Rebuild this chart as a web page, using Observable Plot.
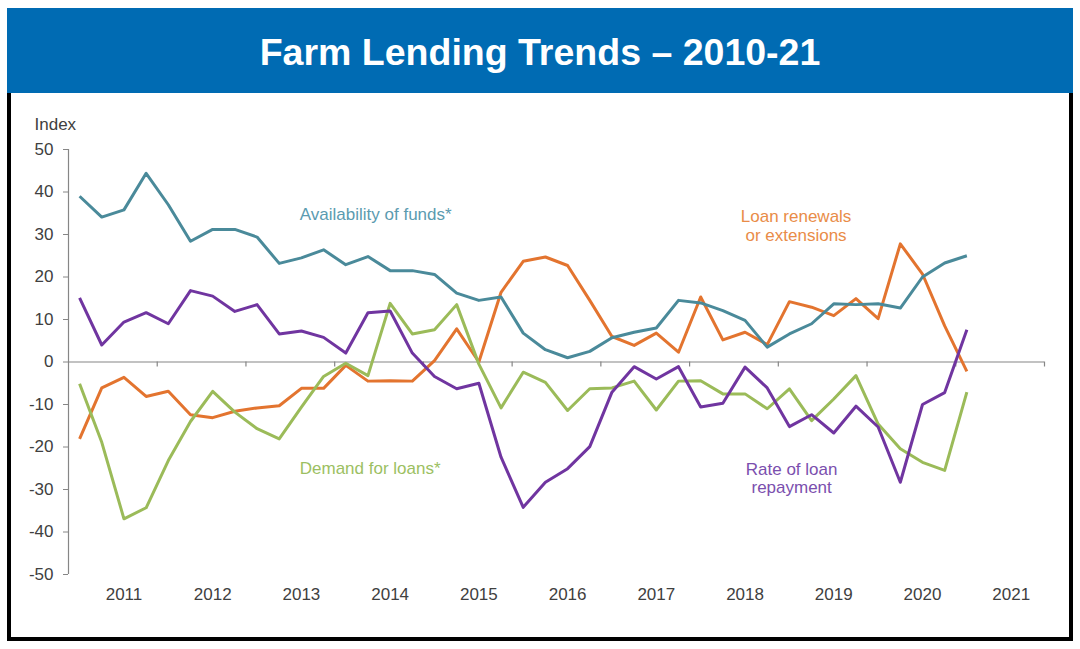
<!DOCTYPE html>
<html>
<head>
<meta charset="utf-8">
<script src="https://cdn.jsdelivr.net/npm/d3@7"></script>
<script src="https://cdn.jsdelivr.net/npm/@observablehq/plot@0.6"></script>
<style>
html, body { margin: 0; padding: 0; background: #fff; }
body { width: 1080px; height: 649px; position: relative; overflow: hidden; font-family: "Liberation Sans", Arial, sans-serif; }
#banner { position: absolute; left: 7px; top: 8px; width: 1066px; height: 85px; background: #006bb3; color: #fff;
  font-weight: bold; font-size: 37.5px; display: flex; align-items: center; justify-content: center; box-sizing: border-box; padding-top: 3px; }
#frame { position: absolute; left: 7px; top: 93px; width: 1066px; height: 548px; box-sizing: border-box;
  border: 4px solid #000; border-top: none; }
#chart { position: absolute; left: 11px; top: 93px; }
</style>
</head>
<body>
<div id="banner">Farm Lending Trends – 2010-21</div>
<div id="frame"></div>
<div id="chart"></div>
<script>
// Year labels on the x axis (one per 4 quarterly observations)
const yearLabels = ["2011", "2012", "2013", "2014", "2015", "2016", "2017", "2018", "2019", "2020", "2021"];
// y-axis ticks
const yTicks = [-50, -40, -30, -20, -10, 0, 10, 20, 30, 40, 50];

// Quarterly index values (41 observations)
const availability = [39.0, 34.1, 35.8, 44.4, 37.0, 28.4, 31.2, 31.2, 29.4, 23.2, 24.5, 26.4, 22.9, 24.8, 21.5, 21.5, 20.6, 16.2, 14.5, 15.3, 6.8, 2.9, 1.0, 2.5, 5.7, 7.0, 8.0, 14.5, 13.9, 12.1, 9.8, 3.5, 6.6, 9.0, 13.7, 13.5, 13.7, 12.7, 20.0, 23.3, 25.0];
const renewals = [-18.1, -6.1, -3.6, -8.1, -6.9, -12.4, -13.1, -11.6, -10.8, -10.3, -6.2, -6.2, -0.8, -4.5, -4.4, -4.5, 0.3, 7.8, 0.0, 16.4, 23.7, 24.7, 22.7, 14.5, 6.0, 3.9, 6.8, 2.3, 15.3, 5.2, 7.0, 4.1, 14.2, 12.9, 10.9, 14.9, 10.2, 27.8, 20.7, 8.5, -2.2];
const demand = [-5.1, -18.9, -36.9, -34.3, -23.2, -14.0, -6.9, -11.8, -15.7, -18.1, -10.6, -3.4, -0.3, -3.2, 13.8, 6.6, 7.6, 13.5, -0.5, -10.8, -2.4, -4.8, -11.4, -6.3, -6.1, -4.5, -11.3, -4.5, -4.4, -7.5, -7.5, -11.0, -6.3, -13.8, -8.7, -3.2, -14.6, -20.4, -23.6, -25.5, -7.1];
const repayment = [15.1, 4.0, 9.4, 11.6, 9.0, 16.8, 15.5, 11.9, 13.5, 6.6, 7.3, 5.8, 2.1, 11.6, 12.0, 2.1, -3.4, -6.3, -5.0, -22.4, -34.2, -28.3, -25.1, -19.9, -7.1, -1.1, -4.0, -1.1, -10.6, -9.7, -1.2, -6.1, -15.2, -12.4, -16.7, -10.4, -15.3, -28.3, -10.0, -7.2, 7.6];

// quarter slots: 4 per year label
const xDomain = [-0.5, yearLabels.length * 4 - 0.5];
const yearLabelPos = yearLabels.map((_, i) => 4 * i + 2);
const yearBoundaries = yearLabels.map((_, i) => 4 * i + 3.5);

const axisGray = "#868686";
const textGray = "#404040";
const col = {
  availability: "#4a8a9a", renewals: "#e3742f", demand: "#9bbb59", repayment: "#7035a0"
};
const lab = {
  availability: "#5b9bb0", renewals: "#e98c48", demand: "#9cbf62", repayment: "#7b4fae"
};

const lineOpts = (c) => ({x: (d, i) => i, y: d => d, stroke: c, strokeWidth: 3, strokeLinejoin: "round", strokeLinecap: "butt"});

const chart = Plot.plot({
  width: 1058,
  height: 544,
  marginLeft: 57,
  marginRight: 25,
  marginTop: 56,
  marginBottom: 63,
  x: {domain: xDomain, axis: null},
  y: {domain: [-50, 50], axis: null},
  style: {fontFamily: "Liberation Sans, Arial, sans-serif", fontSize: "17px", color: textGray, background: "transparent"},
  marks: [
    Plot.ruleX([xDomain[0]], {stroke: axisGray, strokeWidth: 1.2}),
    Plot.axisY({ticks: yTicks, tickFormat: d => String(d), tickSize: 5, tickPadding: 10, stroke: axisGray, fill: textGray, label: null, fontSize: 17}),
    Plot.ruleY([0], {stroke: axisGray, strokeWidth: 1.2}),
    Plot.ruleX(yearBoundaries, {x: d => d, y1: 0, y2: 0, insetBottom: -5, stroke: axisGray, strokeWidth: 1.2}),
    Plot.axisX({ticks: yearLabelPos, tickFormat: d => yearLabels[(d - 2) / 4], tickSize: 0, tickPadding: 13, fill: textGray, label: null, fontSize: 17}),
    Plot.text(["Index"], {frameAnchor: "top-left", dx: -34, dy: -24.5, textAnchor: "start", lineAnchor: "middle", fill: textGray, fontSize: 17}),
    Plot.line(renewals, lineOpts(col.renewals)),
    Plot.line(demand, lineOpts(col.demand)),
    Plot.line(availability, lineOpts(col.availability)),
    Plot.line(repayment, lineOpts(col.repayment)),
    Plot.text(["Availability of funds*"], {x: 13.35, y: 34.7, fill: lab.availability, fontSize: 17, lineAnchor: "middle"}),
    Plot.text(["Loan renewals\nor extensions"], {x: 32.3, y: 32.2, fill: lab.renewals, fontSize: 17, lineAnchor: "middle", lineHeight: 1.12}),
    Plot.text(["Demand for loans*"], {x: 13.1, y: -25.1, fill: lab.demand, fontSize: 17, lineAnchor: "middle"}),
    Plot.text(["Rate of loan\nrepayment"], {x: 32.1, y: -27.3, fill: lab.repayment, fontSize: 17, lineAnchor: "middle", lineHeight: 1.05})
  ]
});
document.getElementById("chart").appendChild(chart);
</script>
</body>
</html>
